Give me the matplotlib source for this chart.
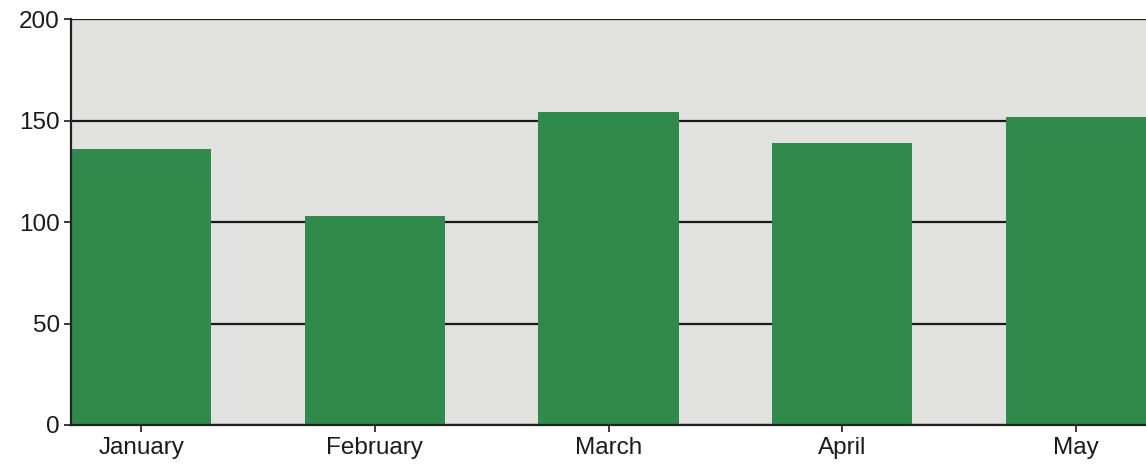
import matplotlib
matplotlib.use("Agg")
import matplotlib.pyplot as plt

plt.rcParams["font.family"] = ["Liberation Sans", "DejaVu Sans"]

months = ["January", "February", "March", "April", "May"]
values = [136, 103, 154, 139, 152]
y_ticks = [0, 50, 100, 150, 200]

fig = plt.figure(figsize=(11.46, 4.66), dpi=100)
ax = fig.add_axes([0.062, 0.088, 0.938, 0.871])
ax.set_facecolor("#e1e1df")

x = list(range(len(months)))
ax.bar(x, values, width=0.6, color="#2f8a4c", zorder=3)

ax.set_ylim(0, 200)
ax.set_xlim(-0.3, len(months) - 0.7)
ax.set_yticks(y_ticks)
ax.set_xticks(x)
ax.set_xticklabels(months)
ax.yaxis.grid(True, color="#1a1a1a", linewidth=1.6, zorder=1)
ax.set_axisbelow(True)

ax.tick_params(axis="both", labelsize=17.5, colors="#1a1a1a", length=5, width=1.2, pad=3)
ax.tick_params(axis="x", pad=4)
for side in ["top", "right"]:
    ax.spines[side].set_visible(False)
for side in ["left", "bottom"]:
    ax.spines[side].set_color("#222222")
    ax.spines[side].set_linewidth(1.6)
    ax.spines[side].set_zorder(4)

fig.savefig("out.png", dpi=100, facecolor="white")
